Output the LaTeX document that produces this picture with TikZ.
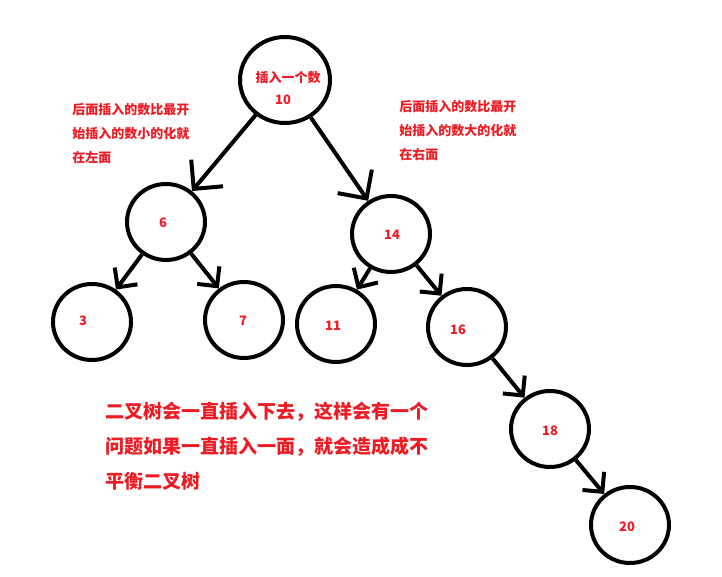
\documentclass[tikz,border=0pt]{standalone}
\usepackage{fontspec}
\setmainfont{Noto Sans CJK SC}
\usetikzlibrary{shapes.geometric,arrows.meta}
\definecolor{notered}{RGB}{237,28,36}
\begin{document}
\begin{tikzpicture}[x=0.75pt,y=-0.75pt,
  bst/.style={ellipse,draw=black,line width=3pt,minimum width=58.5pt,minimum height=57pt,inner sep=0pt},
  num/.style={text=notered,inner sep=0pt,font=\bfseries\fontsize{9.75pt}{12pt}\selectfont},
  note/.style={text=notered,align=left,anchor=west,inner sep=0pt,font=\bfseries\fontsize{9.75pt}{18pt}\selectfont},
  big/.style={text=notered,align=left,anchor=west,inner sep=0pt,font=\bfseries\fontsize{14.25pt}{26.25pt}\selectfont},
  flow/.style={-{Straight Barb[angle=90:15pt]},line width=3pt},
  bigflow/.style={-{Straight Barb[angle=90:22pt]},line width=3pt}]
\useasboundingbox (0,0) rectangle (722,577);
\node[bst,minimum width=67.5pt,minimum height=64.5pt] (n10) at (285,80) {};
\node[bst] (n6) at (166,222) {};
\node[bst] (n14) at (391,234) {};
\node[bst] (n3) at (92,322) {};
\node[bst] (n7) at (244,320) {};
\node[bst] (n11) at (336,324) {};
\node[bst] (n16) at (467,327) {};
\node[bst] (n18) at (550,429) {};
\node[bst] (n20) at (630,525) {};
\node[num] (t10a) at (288,78) {插入一个数};
\node[num] (t10) at (283,100) {10};
\node[num] (t6) at (163,223) {6};
\node[num] (t14) at (392,235) {14};
\node[num] (t3) at (83,321) {3};
\node[num] (t7) at (243,321) {7};
\node[num] (t11) at (333,326) {11};
\node[num] (t16) at (458,330) {16};
\node[num] (t18) at (550,431) {18};
\node[num] (t20) at (627,527) {20};
\draw[bigflow] (n10)--(n6); \draw[bigflow] (n10)--(n14);
\draw[flow] (n6)--(n3); \draw[flow] (n6)--(n7);
\draw[flow] (n14)--(n11); \draw[flow] (n14)--(n16);
\draw[flow] (n16)--(n18); \draw[flow] (n18)--(n20);
\node[note] (leftnote) at (72,134) {后面插入的数比最开\\始插入的数小的化就\\在左面};
\node[note] (rightnote) at (399,131) {后面插入的数比最开\\始插入的数大的化就\\在右面};
\node[big] (warn) at (105,446) {二叉树会一直插入下去，这样会有一个\\问题如果一直插入一面，就会造成成不\\平衡二叉树};
\end{tikzpicture}
\end{document}
